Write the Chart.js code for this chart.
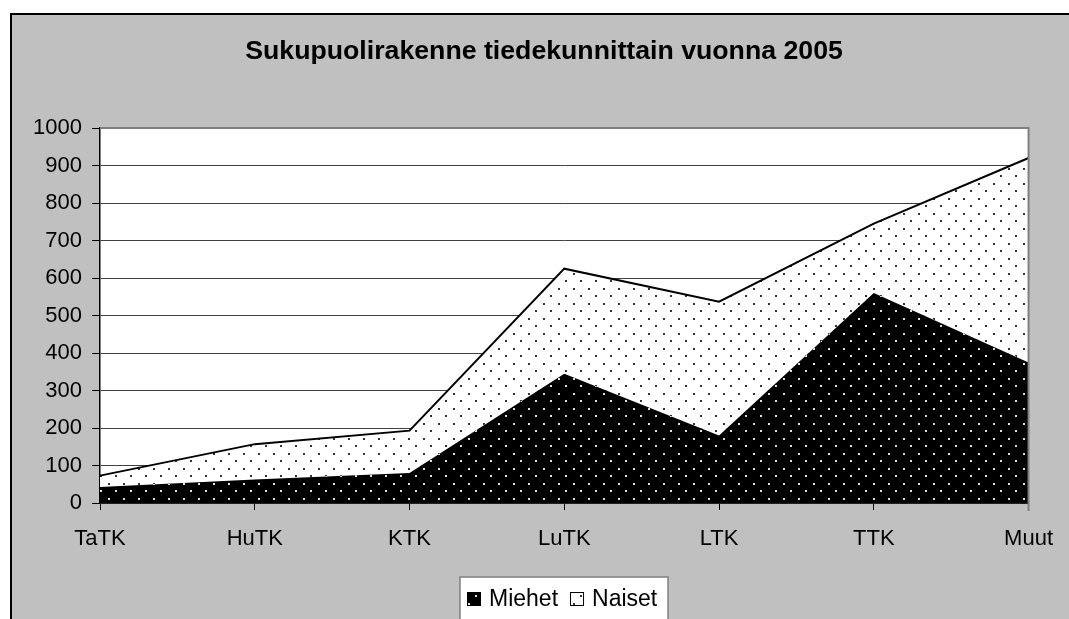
<!DOCTYPE html>
<html>
<head>
<meta charset="utf-8">
<script src="https://cdn.jsdelivr.net/npm/chart.js@4"></script>
<style>
  html, body { margin: 0; padding: 0; background: #fff; }
  canvas { display: block; }
</style>
</head>
<body>
<canvas id="chart" width="1069" height="619"></canvas>
<script>
// Tiedot luettu kuvasta
const categories = ['TaTK', 'HuTK', 'KTK', 'LuTK', 'LTK', 'TTK', 'Muut'];
const miehet = [43, 63, 80, 345, 180, 560, 375];
const naiset = [30, 94, 113, 280, 357, 185, 545];
const yTicks = [0, 100, 200, 300, 400, 500, 600, 700, 800, 900, 1000];

const FONT = 'Liberation Sans, Arial, sans-serif';

// pistekuvio (musta tausta valkoisin pistein / valkoinen musta pistein)
function dotPattern(bg, dot) {
    const c = document.createElement('canvas');
    c.width = 15;
    c.height = 15;
    const g = c.getContext('2d');
    g.fillStyle = bg;
    g.fillRect(0, 0, 15, 15);
    g.fillStyle = dot;
    g.fillRect(3, 3, 2, 2);
    g.fillRect(10, 10, 2, 2);
    return g.createPattern(c, 'repeat');
}

const ctx = document.getElementById('chart').getContext('2d');
const miehetFill = dotPattern('#000000', '#e0e0e0');
const naisetFill = dotPattern('#ffffff', '#333333');

const frame = {
    id: 'frame',
    beforeDraw(chart) {
        const c = chart.ctx;
        const a = chart.chartArea;
        c.save();
        c.fillStyle = '#fff';
        c.fillRect(0, 0, chart.width, chart.height);
        c.fillStyle = '#c0c0c0';
        c.fillRect(10, 13, chart.width - 10, chart.height - 13);
        c.strokeStyle = '#000';
        c.lineWidth = 2;
        c.beginPath();
        c.moveTo(11, chart.height);
        c.lineTo(11, 14);
        c.lineTo(chart.width, 14);
        c.stroke();
        c.fillStyle = '#fff';
        c.fillRect(a.left, a.top, a.right - a.left, a.bottom - a.top);
        c.restore();
    },
    afterDraw(chart) {
        const c = chart.ctx;
        const a = chart.chartArea;
        c.save();
        // piirtoalueen reuna
        c.strokeStyle = '#808080';
        c.lineWidth = 2;
        c.beginPath();
        c.moveTo(a.left, a.top);
        c.lineTo(a.right, a.top);
        c.lineTo(a.right, a.bottom + 8);
        c.stroke();

        // selite
        const bx = 460, by = 577;
        c.fillStyle = '#fff';
        c.fillRect(bx, by, 208, 50);
        c.strokeStyle = '#808080';
        c.lineWidth = 1.5;
        c.strokeRect(bx, by, 208, 50);
        c.font = '23px ' + FONT;
        c.textBaseline = 'middle';
        let x = bx + 7;
        const y = by + 22;
        chart.data.datasets.forEach(ds => {
            c.fillStyle = ds.backgroundColor;
            c.fillRect(x, y - 7, 14, 14);
            c.strokeStyle = '#000';
            c.lineWidth = 1;
            c.strokeRect(x + 0.5, y - 6.5, 13, 13);
            c.fillStyle = '#000';
            c.fillText(ds.label, x + 22, y + 1);
            x += 22 + c.measureText(ds.label).width + 12;
        });
        c.restore();
    }
};

new Chart(ctx, {
    type: 'line',
    data: {
        labels: categories,
        datasets: [{
            label: 'Miehet',
            data: miehet,
            backgroundColor: miehetFill,
            borderWidth: 0,
            fill: 'origin',
            pointRadius: 0,
            tension: 0
        }, {
            label: 'Naiset',
            data: naiset,
            backgroundColor: naisetFill,
            borderColor: '#000',
            borderWidth: 2,
            fill: '-1',
            pointRadius: 0,
            tension: 0
        }]
    },
    options: {
        responsive: false,
        animation: false,
        layout: { padding: { left: 19, right: 0, top: 0, bottom: 0 } },
        scales: {
            x: {
                offset: false,
                grid: {
                    drawOnChartArea: false,
                    color: '#000',
                    tickLength: 7
                },
                border: { color: '#000', width: 1.5 },
                ticks: {
                    color: '#000',
                    padding: 16,
                    maxRotation: 0,
                    font: { family: FONT, size: 22 }
                },
                afterFit(scale) { scale.height = 116; }
            },
            y: {
                stacked: true,
                min: 0,
                max: 1000,
                afterBuildTicks(scale) {
                    scale.ticks = yTicks.map(v => ({ value: v }));
                },
                grid: {
                    color: '#404040',
                    tickColor: '#000',
                    tickLength: 8
                },
                border: { color: '#000', width: 1.5 },
                ticks: {
                    color: '#000',
                    padding: 10,
                    callback: v => String(v),
                    font: { family: FONT, size: 22 }
                },
                afterFit(scale) { scale.width = 81; }
            },
            // tyhjä oikea tila piirtoalueen oikealla puolella
            yRight: {
                position: 'right',
                min: 0,
                max: 1000,
                grid: { display: false },
                border: { display: false },
                ticks: { display: false },
                afterFit(scale) { scale.width = 39; }
            }
        },
        plugins: {
            legend: { display: false },
            tooltip: { enabled: false },
            title: {
                display: true,
                text: 'Sukupuolirakenne tiedekunnittain vuonna 2005',
                color: '#000',
                font: { family: FONT, size: 26.7, weight: 'bold' },
                padding: { top: 36, bottom: 60 }
            }
        }
    },
    plugins: [frame]
});
</script>
</body>
</html>
